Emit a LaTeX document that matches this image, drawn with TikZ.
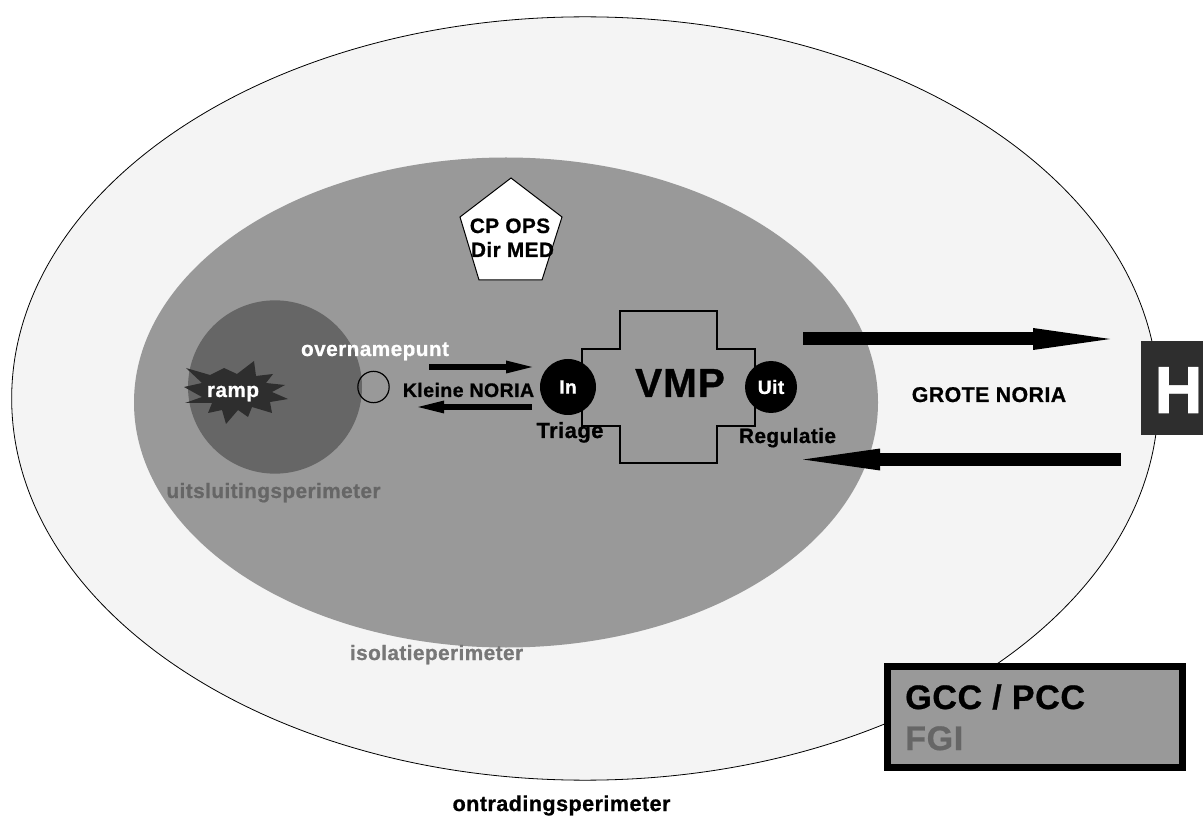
\documentclass[tikz,border=0pt]{standalone}
\usepackage{fontspec}
\setmainfont{Liberation Sans}[LetterSpace=2,BoldFeatures={FakeBold=0.8}]
\usetikzlibrary{arrows.meta,shapes.geometric}
\definecolor{lichtgrijs}{HTML}{F4F4F4}
\definecolor{middengrijs}{HTML}{999999}
\definecolor{donkergrijs}{HTML}{666666}
\definecolor{labelgrijs}{HTML}{777777}
\definecolor{bijnazwart}{HTML}{2E2E2E}
\tikzset{
  zone/.style={ellipse,inner sep=0pt},
  label/.style={inner sep=0pt,anchor=base,font=\fontsize{15.6}{15.6}\selectfont\bfseries},
  bordlabel/.style={inner sep=0pt,anchor=base west,font=\fontsize{25.5}{25.5}\selectfont\bfseries},
  post/.style={circle,fill=black,inner sep=0pt,text=white,font=\fontsize{14.5}{14.5}\selectfont\bfseries},
  dikkepijl/.style={line width=9.75pt,-{Triangle[length=57.75pt,width=16.5pt,line width=0pt]}},
  dunnepijl/.style={line width=5pt,-{Triangle[length=19.5pt,width=9.75pt,line width=0pt]}},
}
\begin{document}
\begin{tikzpicture}[x=0.75pt,y=-0.75pt]
  \useasboundingbox (0,0) rectangle (1203,816);
  \node[zone,draw=black,line width=0.6pt,fill=lichtgrijs,minimum width=860pt,minimum height=572.5pt] (ontrading) at (585,398.5) {};
  \node[zone,fill=middengrijs,minimum width=558pt,minimum height=367.5pt] (isolatie) at (506,402.5) {};
  \node[zone,fill=donkergrijs,minimum width=130.5pt,minimum height=130pt] (uitsluiting) at (275,387) {};
  % ramp
  \draw[fill=bijnazwart,draw=none]
    (186,368) -- (210,375) -- (224,368) -- (237,374) -- (254,361) -- (256,376)
    -- (273,374) -- (266,383) -- (285,385) -- (272,392) -- (288,399) -- (270,402)
    -- (272,413) -- (252,407) -- (248,417) -- (238,410) -- (226,424) -- (222,410)
    -- (208,413) -- (212,403) -- (185,403) -- (202,397) -- (184,387) -- (202,383) -- cycle;
  \node[label,text=white] (ramp) at (233,397) {ramp};
  \node[label,text=white] (overname) at (375,356) {overnamepunt};
  \node[circle,draw=black,line width=0.9pt,minimum size=23.5pt,inner sep=0pt] (punt) at (373.5,387) {};
  \node[label,text=donkergrijs] (uitsluitlabel) at (273.5,498) {uitsluitingsperimeter};
  \node[label,text=labelgrijs] (isolatielabel) at (436.5,660) {isolatieperimeter};
  \node[label,font=\fontsize{16.2}{16.2}\selectfont\bfseries] (ontradinglabel) at (561.5,811) {ontradingsperimeter};
  % commandopost
  \draw[fill=white,line width=0.75pt] (511,178) -- (562,217) -- (542,280) -- (479,280) -- (460,217) -- cycle;
  \node[label] (cpops) at (510,233) {CP OPS};
  \node[label] (dirmed) at (512.5,257) {Dir MED};
  % VMP
  \draw[line width=0.9pt] (620,311) -- (717,311) -- (717,349) -- (755,349) -- (755,426)
    -- (717,426) -- (717,463) -- (620,463) -- (620,426) -- (582,426) -- (582,349)
    -- (620,349) -- cycle;
  \node[label,font=\fontsize{30.5}{30.5}\selectfont\bfseries] (vmp) at (680,397) {VMP};
  \node[post,minimum size=42pt] (in) at (568,387) {In};
  \node[post,minimum size=39pt] (uit) at (771,387) {Uit};
  \node[label,font=\fontsize{16.5}{16.5}\selectfont\bfseries] (triage) at (570,438) {Triage};
  \node[label] (regulatie) at (787.5,443) {Regulatie};
  \node[label,font=\fontsize{14.7}{14.7}\selectfont\bfseries] (klein) at (468.5,397) {Kleine NORIA};
  \node[label,font=\fontsize{16}{16}\selectfont\bfseries] (groot) at (989,402) {GROTE NORIA};
  % noria
  \coordinate (a1) at (429,367);
  \coordinate (a2) at (532,367);
  \coordinate (b1) at (532,407);
  \coordinate (b2) at (418,407);
  \coordinate (c1) at (803,339);
  \coordinate (c2) at (1110,339);
  \coordinate (d1) at (1121,459.5);
  \coordinate (d2) at (803,459.5);
  \begin{scope}
    \draw[dunnepijl] (a1) to (a2);
    \draw[dunnepijl] (b1) to (b2);
    \draw[dikkepijl] (c1) to (c2);
    \draw[dikkepijl] (d1) to (d2);
  \end{scope}
  % ziekenhuis
  \node[fill=bijnazwart,minimum width=46.5pt,minimum height=70.5pt,inner sep=0pt,anchor=north west] (ziekenhuis) at (1141,341) {};
  \node[inner sep=0pt,anchor=base,text=white,font=\fontsize{50}{50}\selectfont\bfseries] (h) at (1178.5,413) {H};
  % coordinatie
  \node[fill=middengrijs,draw=black,line width=5.25pt,minimum width=221.25pt,minimum height=75.75pt,inner sep=0pt] (gcc) at (1035,717) {};
  \node[bordlabel] (gcclabel) at (905,709) {GCC / PCC};
  \node[bordlabel,text=donkergrijs] (fgi) at (905,750) {FGI};
\end{tikzpicture}
\end{document}
